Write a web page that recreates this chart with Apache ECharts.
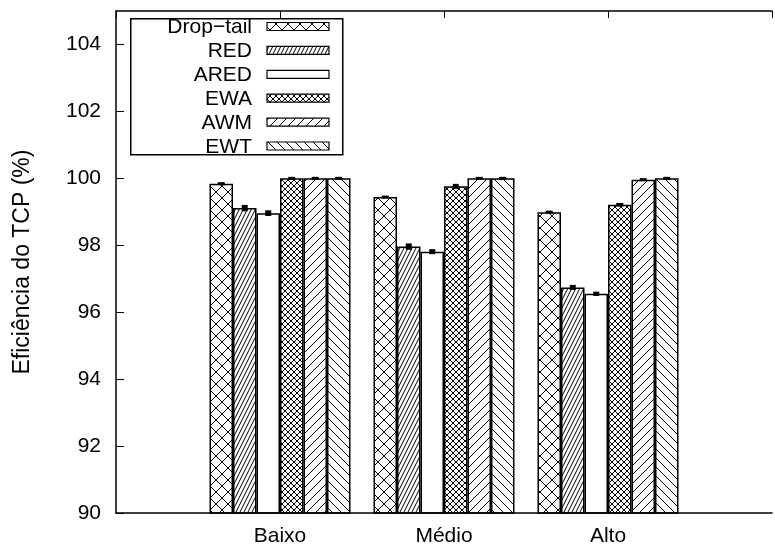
<!DOCTYPE html>
<html>
<head>
<meta charset="utf-8">
<script src="https://cdn.jsdelivr.net/npm/echarts@6/dist/echarts.min.js"></script>
<style>
html,body{margin:0;padding:0;background:#fff;}
#chart{width:775px;height:547px;}
</style>
</head>
<body>
<div id="chart"></div>
<script>
// ---- data ----
const categories = ['Baixo', 'Médio', 'Alto'];
const seriesNames = ['Drop\u2212tail', 'RED', 'ARED', 'EWA', 'AWM', 'EWT'];
const dropTail = [99.84, 99.44, 98.99];
const red      = [99.11, 97.96, 96.74];
const ared     = [98.96, 97.81, 96.55];
const ewa      = [100.00, 99.76, 99.21];
const awm      = [100.00, 100.00, 99.96];
const ewt      = [100.00, 100.00, 100.00];
const errDropTail = [0.03, 0.03, 0.03];
const errRed      = [0.08, 0.08, 0.06];
const errAred     = [0.07, 0.06, 0.05];
const errEwa      = [0.03, 0.06, 0.04];
const errAwm      = [0.03, 0.03, 0.03];
const errEwt      = [0.03, 0.03, 0.03];
const yTicks = [90, 92, 94, 96, 98, 100, 102, 104];

const values = [dropTail, red, ared, ewa, awm, ewt];
const errors = [errDropTail, errRed, errAred, errEwa, errAwm, errEwt];

// ---- patterns ----
function tile(w, h, draw) {
  const c = document.createElement('canvas');
  c.width = w; c.height = h;
  const g = c.getContext('2d');
  g.fillStyle = '#fff'; g.fillRect(0, 0, w, h);
  g.strokeStyle = '#000'; g.lineWidth = 1;
  draw(g, w, h);
  return c;
}
function slash(g, w, h) { // "/" lines
  for (let o = -w; o <= w; o += w) {
    g.beginPath(); g.moveTo(o, h); g.lineTo(o + w, 0); g.stroke();
  }
}
function backslash(g, w, h) { // "\" lines
  for (let o = -w; o <= w; o += w) {
    g.beginPath(); g.moveTo(o, 0); g.lineTo(o + w, h); g.stroke();
  }
}
const patterns = [
  tile(12, 12, (g, w, h) => { slash(g, w, h); backslash(g, w, h); }),
  tile(4, 8, slash),
  null,
  tile(6, 6, (g, w, h) => { slash(g, w, h); backslash(g, w, h); }),
  tile(9, 9, slash),
  tile(9, 9, backslash)
];
function fillOf(i) {
  return patterns[i] ? { image: patterns[i], repeat: 'repeat' } : '#fff';
}

const FONT = "'Liberation Sans', Arial, Helvetica, sans-serif";
const padCats = ['_l'].concat(categories, ['_r']);
const BARW = 23.5;

const barSeries = seriesNames.map((name, i) => ({
  name: name,
  type: 'bar',
  barWidth: BARW,
  barGap: '0%',
  clip: true,
  silent: true,
  itemStyle: { color: fillOf(i), borderColor: '#000', borderWidth: 1.5 },
  data: ['-'].concat(values[i], ['-']),
  z: 2
}));

const errData = [];
values.forEach((arr, s) => arr.forEach((v, c) => errData.push([c + 1, v, errors[s][c], s])));

const errSeries = {
  type: 'custom',
  silent: true,
  z: 5,
  data: errData,
  renderItem: function (params, api) {
    const c = api.value(0), v = api.value(1), e = api.value(2), s = api.value(3);
    const p = api.coord([c, v]);
    const x = p[0] + (s - 2.5) * BARW;
    const yTop = api.coord([c, v + e])[1];
    const yBot = api.coord([c, v - e])[1];
    const h = Math.max(3, yBot - yTop + 1);
    const w = h > 4 ? 6 : 7;
    return {
      type: 'rect',
      shape: { x: x - w / 2, y: (yTop + yBot) / 2 - h / 2, width: w, height: h },
      style: { fill: '#000' }
    };
  }
};

// ---- legend (drawn box) ----
const legendGraphics = [{
  type: 'rect', left: 130, top: 18, z: 20,
  shape: { width: 212, height: 136 },
  style: { fill: '#fff', stroke: '#000', lineWidth: 1.5 }
}];
seriesNames.forEach((name, i) => {
  const cy = 26.5 + i * 23.9;
  legendGraphics.push({
    type: 'text', z: 21,
    x: 252, y: cy + 1,
    style: { text: name, textAlign: 'right', textVerticalAlign: 'middle', font: '21px ' + FONT, fill: '#000' }
  });
  legendGraphics.push({
    type: 'rect', z: 21,
    shape: { x: 267, y: cy - 4, width: 62, height: 8 },
    style: { fill: fillOf(i), stroke: '#000', lineWidth: 1.2 }
  });
});

const chart = echarts.init(document.getElementById('chart'), null, { renderer: 'canvas' });
chart.setOption({
  animation: false,
  backgroundColor: '#fff',
  textStyle: { fontFamily: FONT },
  grid: { left: 116, top: 11, width: 670, height: 502, containLabel: false },
  xAxis: [{
    type: 'category',
    data: padCats,
    boundaryGap: false,
    position: 'bottom',
    axisLine: { lineStyle: { color: '#000', width: 1.5 } },
    axisTick: { show: false },
    axisLabel: {
      color: '#000', fontSize: 21, fontFamily: FONT, margin: 13,
      formatter: v => (v.charAt(0) === '_' ? '' : v)
    },
    splitLine: { show: false },
    z: 10
  }, {
    type: 'category',
    data: padCats,
    boundaryGap: false,
    position: 'top',
    axisLine: { lineStyle: { color: '#000', width: 1.5 } },
    axisTick: { show: true, inside: true, length: 7, lineStyle: { color: '#000', width: 1 } },
    axisLabel: { show: false },
    splitLine: { show: false },
    z: 10
  }],
  yAxis: {
    type: 'value',
    min: 90, max: 105, interval: 2,
    name: 'Eficiência do TCP (%)',
    nameLocation: 'middle',
    nameRotate: 90,
    nameGap: 82,
    nameTextStyle: { color: '#000', fontSize: 23, fontFamily: FONT },
    axisLine: { show: true, lineStyle: { color: '#000', width: 1.5 } },
    axisTick: { show: true, inside: true, length: 8, lineStyle: { color: '#000', width: 1 } },
    axisLabel: {
      color: '#000', fontSize: 21, fontFamily: FONT, margin: 15, showMaxLabel: false,
      formatter: v => (yTicks.indexOf(v) >= 0 ? String(v) : '')
    },
    splitLine: { show: false },
    z: 10
  },
  series: barSeries.concat([errSeries]),
  graphic: legendGraphics
});
</script>
</body>
</html>
